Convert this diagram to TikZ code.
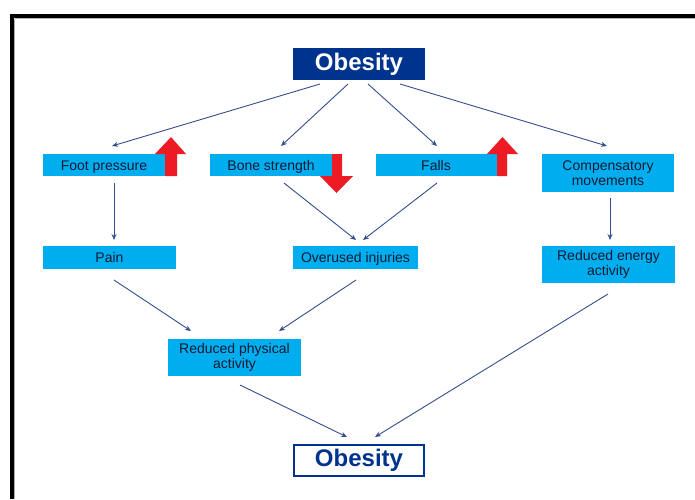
\documentclass[tikz,border=0pt]{standalone}
\usepackage{fontspec}
\setmainfont{Liberation Sans}
\usetikzlibrary{arrows.meta}
\definecolor{boxcyan}{RGB}{0,174,239}
\definecolor{darkblue}{RGB}{0,51,141}
\definecolor{linkblue}{RGB}{52,78,140}
\definecolor{txt}{RGB}{18,26,52}
\definecolor{redarrow}{RGB}{237,28,36}
\tikzset{
  cbox/.style={fill=boxcyan, draw=none, inner sep=0pt, text=txt, align=center,
    font=\fontsize{14}{15}\selectfont},
  oneline/.style={text height=10pt, text depth=0pt},
  lbl/.style={text=txt, font=\fontsize{14}{15}\selectfont, inner sep=0pt, text height=10pt, text depth=0pt},
  link/.style={draw=linkblue, line width=0.9pt, -{Stealth[length=6pt,width=5pt]}},
  redup/.style={fill=redarrow, draw=none},
}
\begin{document}
\begin{tikzpicture}[x=1pt,y=-1pt]
\useasboundingbox (0,0) rectangle (695,499);
\fill[white] (0,0) rectangle (695,499);
% frame
\draw[gray!60, line width=1pt] (14.5,18.5) -- (695,18.5);
\draw[gray!60, line width=1pt] (14.5,18.5) -- (14.5,499);
\draw[black, line width=4pt] (10,16) -- (695,16);
\draw[black, line width=4pt] (12,14) -- (12,499);

% top obesity
\node[fill=darkblue, inner sep=0pt, minimum width=132pt, minimum height=32pt,
  text=white, font=\bfseries\fontsize{24}{24}\selectfont] (ob1) at (359,64) {Obesity};

% row 2
\node[cbox, minimum width=134pt, minimum height=22pt] (fp) at (110,165) {};
\node[lbl] (fpt) at (104,165.5) {Foot pressure};
\node[cbox, minimum width=132pt, minimum height=22pt] (bs) at (276,165) {};
\node[lbl] (bst) at (271,165.5) {Bone strength};
\node[cbox, minimum width=131pt, minimum height=22pt] (fa) at (441.5,165) {};
\node[lbl] (fat) at (436,165.5) {Falls};
\node[cbox, minimum width=132pt, minimum height=38pt] (cm) at (608,173) {Compensatory\\movements};

% red arrows
\fill[redup] (165,176) -- (165,154) -- (155,154) -- (171,137) -- (186,154) -- (177,154) -- (177,176) -- cycle;
\fill[redup] (332,154) -- (342,154) -- (342,176) -- (353,176) -- (336.5,193) -- (320,176) -- (332,176) -- cycle;
\fill[redup] (497,176) -- (497,154) -- (487,154) -- (502.5,137) -- (518,154) -- (507,154) -- (507,176) -- cycle;

% row 3
\node[cbox, oneline, minimum width=133pt, minimum height=23pt] (pa) at (109.5,257.5) {Pain};
\node[cbox, oneline, minimum width=125pt, minimum height=23pt] (ov) at (355.5,257.5) {Overused injuries};
\node[cbox, minimum width=133pt, minimum height=37pt] (re) at (608.5,264.5) {Reduced energy\\activity};

% row 4
\node[cbox, minimum width=133pt, minimum height=37pt] (rp) at (234.5,357.5) {Reduced physical\\activity};

% bottom obesity
\node[draw=darkblue, line width=1.6pt, fill=white, inner sep=0pt, minimum width=130pt, minimum height=31pt,
  text=darkblue, font=\bfseries\fontsize{24}{24}\selectfont] (ob2) at (359,460.5) {Obesity};

% coordinates for connector ends
\coordinate (s1) at (320,84);
\coordinate (s2) at (348,84);
\coordinate (s3) at (368,84);
\coordinate (s4) at (400,84);
\coordinate (t1) at (112,146);
\coordinate (t2) at (281,146);
\coordinate (t3) at (437,146);
\coordinate (t4) at (607,146);
\draw[link] (s1) -- (t1);
\draw[link] (s2) -- (t2);
\draw[link] (s3) -- (t3);
\draw[link] (s4) -- (t4);

\coordinate (fpb) at (114,183);
\coordinate (pat) at (114,240);
\draw[link] (fpb) -- (pat);
\coordinate (bsb) at (284,183);
\coordinate (ov1) at (356,240);
\draw[link] (bsb) -- (ov1);
\coordinate (fab) at (437,183);
\coordinate (ov2) at (363,240);
\draw[link] (fab) -- (ov2);
\coordinate (cmb) at (610,198);
\coordinate (ret) at (610,240);
\draw[link] (cmb) -- (ret);

\coordinate (pab) at (114,280);
\coordinate (rp1) at (191,331);
\draw[link] (pab) -- (rp1);
\coordinate (ovb) at (356,280);
\coordinate (rp2) at (279,331);
\draw[link] (ovb) -- (rp2);

\coordinate (rpb) at (240,385);
\coordinate (ob2a) at (347,437);
\draw[link] (rpb) -- (ob2a);
\coordinate (reb) at (608,294);
\coordinate (ob2b) at (375,437);
\draw[link] (reb) -- (ob2b);
\end{tikzpicture}
\end{document}
